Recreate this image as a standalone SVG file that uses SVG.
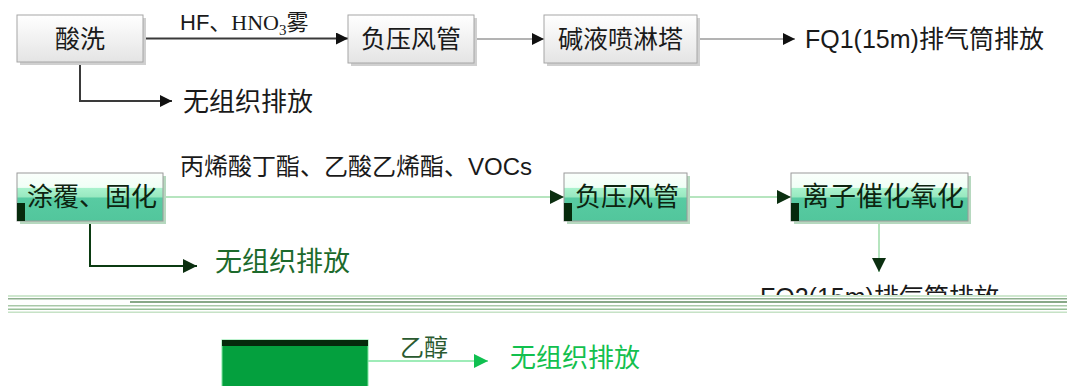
<svg xmlns="http://www.w3.org/2000/svg" width="1067" height="386" viewBox="0 0 1067 386">
<defs>
<linearGradient id="g1" x1="0" y1="0" x2="0" y2="1"><stop offset="0" stop-color="#ffffff"/><stop offset="1" stop-color="#e4e4e4"/></linearGradient>
<linearGradient id="g2" x1="0" y1="0" x2="0" y2="1"><stop offset="0" stop-color="#fbfffc"/><stop offset="0.3" stop-color="#f0fff6"/><stop offset="0.32" stop-color="#a9f2cd"/><stop offset="0.5" stop-color="#98e8c0"/><stop offset="0.52" stop-color="#58cba2"/><stop offset="1" stop-color="#52c69c"/></linearGradient>
<marker id="a1" viewBox="0 0 10 10" refX="10" refY="5" markerWidth="14" markerHeight="12" markerUnits="userSpaceOnUse" orient="auto"><path d="M0,0 L10,5 L0,10 z" fill="#111"/></marker>
<marker id="a2" viewBox="0 0 10 10" refX="10" refY="5" markerWidth="17" markerHeight="14" markerUnits="userSpaceOnUse" orient="auto"><path d="M0,0 L10,5 L0,10 z" fill="#0b2f10"/></marker>
<marker id="a3" viewBox="0 0 10 10" refX="10" refY="5" markerWidth="18" markerHeight="14" markerUnits="userSpaceOnUse" orient="auto"><path d="M0,0 L10,5 L0,10 z" fill="#10c050"/></marker>
<clipPath id="c1"><rect x="0" y="280" width="1067" height="15"/></clipPath>
</defs>
<style>
.b1{fill:url(#g1);stroke:#a6a6a6;stroke-width:1}
.b2{fill:url(#g2);stroke:#9a9a9a;stroke-width:1}
.sh{fill:#d0d0d0}
.t{font-family:"Liberation Sans","Noto Sans CJK SC",sans-serif;fill:#1a1a1a}
.t2{font-family:"Liberation Sans","Noto Sans CJK SC",sans-serif;fill:#0d2410}
.l1{stroke:#3a3a3a;stroke-width:2;fill:none}
.l2{stroke:#9a9a9a;stroke-width:1.3;fill:none}
</style>

<g id="connectors">
<line class="l1" x1="143" y1="38.5" x2="348" y2="38.5" marker-end="url(#a1)"/>
<line class="l2" x1="474" y1="39" x2="544" y2="39" marker-end="url(#a1)"/>
<line class="l2" x1="697" y1="39" x2="795" y2="39" marker-end="url(#a1)"/>
<polyline class="l1" points="80,62 80,101 172,101" marker-end="url(#a1)"/>
<line x1="163" y1="197" x2="564" y2="197" stroke="#9edcaa" stroke-width="1.3" marker-end="url(#a2)"/>
<line x1="687" y1="197" x2="791" y2="197" stroke="#9edcaa" stroke-width="1.3" marker-end="url(#a2)"/>
<line x1="879" y1="221" x2="879" y2="272" stroke="#9edcaa" stroke-width="1.5" marker-end="url(#a2)"/>
<polyline points="90,221 90,266 197,266" fill="none" stroke="#0b3b12" stroke-width="2" marker-end="url(#a2)"/>
<line x1="368" y1="361" x2="488" y2="361" stroke="#7ee6a0" stroke-width="1.3" marker-end="url(#a3)"/>
</g>

<g id="n1"><rect class="sh" x="20" y="18" width="126" height="47"/><rect class="b1" x="17" y="15" width="126" height="47"/><text class="t" x="80" y="48" font-size="25" text-anchor="middle">酸洗</text></g>
<g id="n1l"><text class="t" x="180" y="30" font-size="22">HF、<tspan font-family="'Liberation Serif',serif">HNO</tspan><tspan font-family="'Liberation Serif',serif" font-size="15" dy="5">3</tspan><tspan dy="-5">雾</tspan></text></g>
<g id="n2"><rect class="sh" x="351" y="18" width="126" height="48"/><rect class="b1" x="348" y="15" width="126" height="48"/><text class="t" x="411" y="48" font-size="25" text-anchor="middle">负压风管</text></g>
<g id="n3"><rect class="sh" x="547" y="18" width="153" height="48"/><rect class="b1" x="544" y="15" width="153" height="48"/><text class="t" x="620.5" y="48" font-size="25" text-anchor="middle">碱液喷淋塔</text></g>
<g id="n4"><text class="t" x="805" y="48" font-size="25">FQ1(15m)排气筒排放</text></g>
<g id="n5"><text class="t" x="183" y="111" font-size="26">无组织排放</text></g>

<g id="n6"><rect x="20" y="176" width="146" height="48" fill="#b6d8bf"/><rect class="b2" x="17" y="173" width="146" height="48"/><rect x="17" y="203" width="8" height="18" fill="#062a0c"/><text class="t2" x="92" y="206" font-size="26" text-anchor="middle">涂覆、固化</text></g>
<g id="n6l"><text class="t" x="180" y="175" font-size="24">丙烯酸丁酯、乙酸乙烯酯、VOCs</text></g>
<g id="n7"><rect x="567" y="176" width="123" height="48" fill="#b6d8bf"/><rect class="b2" x="564" y="173" width="123" height="48"/><rect x="564" y="203" width="8" height="18" fill="#062a0c"/><text class="t2" x="627" y="206" font-size="26" text-anchor="middle">负压风管</text></g>
<g id="n8"><rect x="794" y="176" width="177" height="48" fill="#b6d8bf"/><rect class="b2" x="791" y="173" width="177" height="48"/><rect x="791" y="203" width="8" height="18" fill="#062a0c"/><text class="t2" x="883" y="206" font-size="27" text-anchor="middle">离子催化氧化</text></g>
<g id="n9"><text x="215" y="271" font-size="27" font-family="'Liberation Sans','Noto Sans CJK SC',sans-serif" fill="#1c6a2c">无组织排放</text></g>

<g id="n10"><text class="t" x="760" y="306" font-size="25" clip-path="url(#c1)">FQ2(15m)排气筒排放</text></g>
<g id="band">
<rect x="8" y="295" width="1059" height="2" fill="#cfe8cf"/>
<rect x="8" y="298" width="1059" height="1.5" fill="#8fb08f"/>
<rect x="130" y="301" width="937" height="2" fill="#88a888"/>
<rect x="8" y="305" width="1059" height="1.5" fill="#a9c9a9"/>
<rect x="8" y="308.5" width="1059" height="1.5" fill="#98c098"/>
<rect x="8" y="311.5" width="1059" height="1.5" fill="#c6e2c6"/>
</g>

<g id="n11"><rect x="222" y="340" width="146" height="48" fill="#04a03e" stroke="#7ee6a0" stroke-width="1"/><rect x="222" y="340" width="146" height="6" fill="#062a0c"/></g>
<g id="n11l"><text x="400" y="356" font-size="24" font-family="'Liberation Sans','Noto Sans CJK SC',sans-serif" fill="#2a5a30">乙醇</text></g>
<g id="n12"><text x="510" y="367" font-size="26" font-family="'Liberation Sans','Noto Sans CJK SC',sans-serif" fill="#12c04e">无组织排放</text></g>
</svg>
